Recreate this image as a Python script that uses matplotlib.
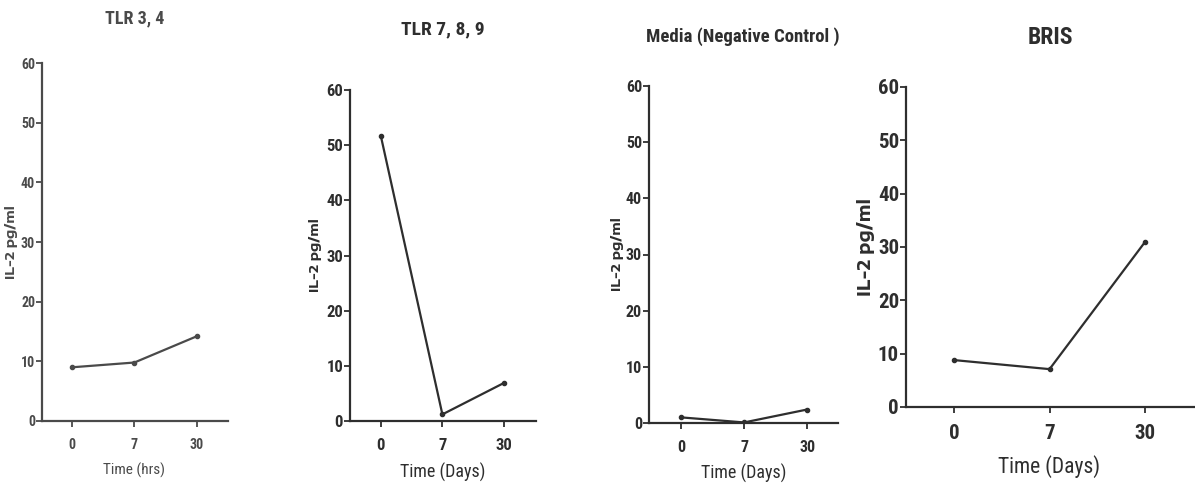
import matplotlib
matplotlib.use("Agg")
import matplotlib.pyplot as plt

# IL-2 concentration (pg/ml) at each time point for each stimulation
time_labels = ["0", "7", "30"]
tlr34 = [9.0, 9.8, 14.2]
tlr789 = [51.7, 1.2, 6.9]
media = [1.0, 0.1, 2.4]
bris = [8.8, 7.1, 31.0]

titles = ["TLR 3, 4", "TLR 7, 8, 9", "Media (Negative Control )", "BRIS"]
xlabels = ["Time (hrs)", "Time (Days)", "Time (Days)", "Time (Days)"]
ylabel = "IL-2 pg/ml"
yticks = [0, 10, 20, 30, 40, 50, 60]

NARROW = ["Roboto Condensed", "Archivo Narrow", "DejaVu Sans"]
WIDE = ["Encode Sans Expanded", "DejaVu Sans"]

W, H = 1195, 488
fig = plt.figure(figsize=(W / 100, H / 100), dpi=100)


def px_axes(left, right, top, bottom):
    return fig.add_axes([left / W, 1 - bottom / H, (right - left) / W, (bottom - top) / H])


panels = [
    dict(vals=tlr34, box=(42, 228, 63, 421), xlim=(-0.48, 2.5),
         tick_fs=10, title_fs=13, xl_fs=11, yl_fs=9.5, col="#4a4a4a",
         title_xy=(135, 18), xl_y=470, yl_x=12),
    dict(vals=tlr789, box=(350, 536, 90, 421), xlim=(-0.5, 2.52),
         tick_fs=12, title_fs=14, xl_fs=13, yl_fs=9.5, col="#2e2e2e",
         title_xy=(443, 29), xl_y=472, yl_x=316),
    dict(vals=media, box=(649, 838, 86, 423), xlim=(-0.51, 2.49),
         tick_fs=11.5, title_fs=13.5, xl_fs=13, yl_fs=9.5, col="#2e2e2e",
         title_xy=(743, 37), xl_y=473, yl_x=617),
    dict(vals=bris, box=(906, 1195, 87, 407), xlim=(-0.5, 2.52),
         tick_fs=15, title_fs=17, xl_fs=15.5, yl_fs=12.5, col="#2e2e2e",
         title_xy=(1050, 38), xl_y=467, yl_x=866),
]

for p, title, xl in zip(panels, titles, xlabels):
    ax = px_axes(*p["box"])
    x = range(len(time_labels))
    ax.plot(x, p["vals"], color=p["col"], lw=1.6, marker="o", ms=3)
    ax.set_xlim(*p["xlim"])
    ax.set_ylim(0, 60)
    ax.set_yticks(yticks)
    ax.set_xticks(list(x))
    ax.set_xticklabels(time_labels)
    for s in ["top", "right"]:
        ax.spines[s].set_visible(False)
    for s in ["left", "bottom"]:
        ax.spines[s].set_color(p["col"])
        ax.spines[s].set_linewidth(1.6)
    ax.tick_params(axis="both", colors=p["col"], width=1.3, length=4,
                   labelsize=p["tick_fs"], pad=1)
    ax.tick_params(axis="x", pad=8)
    for lab in ax.get_xticklabels() + ax.get_yticklabels():
        lab.set_family(NARROW)
        lab.set_fontweight("bold")
        lab.set_color(p["col"])
    tx, ty = p["title_xy"]
    fig.text(tx / W, 1 - ty / H, title, ha="center", va="center",
             fontsize=p["title_fs"], family=NARROW, fontweight="bold",
             color=p["col"])
    xc = p["box"][0] + (p["box"][1] - p["box"][0]) * (1 - p["xlim"][0]) / (p["xlim"][1] - p["xlim"][0])
    fig.text(xc / W, 1 - p["xl_y"] / H, xl, ha="center", va="center",
             fontsize=p["xl_fs"], family=NARROW, color=p["col"])
    yc = (p["box"][2] + p["box"][3]) / 2
    fig.text(p["yl_x"] / W, 1 - yc / H, ylabel, ha="center", va="center",
             rotation=90, fontsize=p["yl_fs"], family=WIDE, fontweight="bold",
             color=p["col"])

fig.savefig("out.png", dpi=100)
